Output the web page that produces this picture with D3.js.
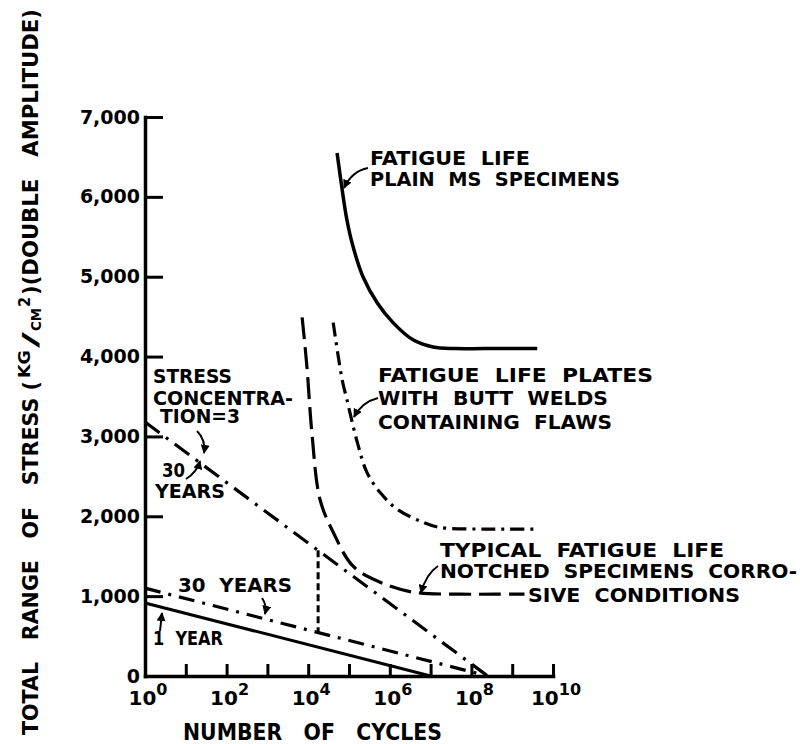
<!DOCTYPE html>
<html>
<head>
<meta charset="utf-8">
<script src="https://cdn.jsdelivr.net/npm/d3@7"></script>
<style>
  body { margin: 0; background: #fff; }
  svg { display: block; font-family: 'DejaVu Sans', sans-serif; font-weight: bold; }
  text { white-space: pre; fill: #000; }
</style>
</head>
<body>
<svg id="chart" width="800" height="744"></svg>
<script>
// axis values
var stressTicks = [0, 1000, 2000, 3000, 4000, 5000, 6000, 7000]
var cycleTicks = [1e1, 1e2, 1e3, 1e4, 1e5, 1e6, 1e7, 1e8, 1e9, 1e10]
var cycleLabelExps = [0, 2, 4, 6, 8, 10]

// fatigue life, plain MS specimens (solid)
var plainCycles = [5.1e4, 6.8e4, 8.9e4, 1.26e5, 2.2e5, 4.9e5, 1.2e6, 3.7e6, 1.15e7, 4e7, 2e8, 4.1e9]
var plainStress = [6550, 6090, 5710, 5375, 5000, 4675, 4425, 4210, 4120, 4100, 4100, 4100]

// fatigue life, plates with butt welds containing flaws (dash-dot)
var weldCycles = [4.1e4, 6.8e4, 8.9e4, 1.6e5, 2.75e5, 5.75e5, 1.5e6, 6.5e6, 1.7e7, 1.6e8, 8e8, 4.1e9]
var weldStress = [4425, 3710, 3460, 2925, 2550, 2300, 2090, 1925, 1860, 1840, 1840, 1840]

// typical fatigue life, notched specimens, corrosive conditions (dashed)
var notchCycles = [7.1e3, 9.3e3, 1.23e4, 1.95e4, 4.1e4, 1.26e5, 5.75e5, 3.7e6, 5.2e7, 4e8, 2.0e9]
var notchStress = [4490, 3875, 3050, 2210, 1800, 1375, 1175, 1050, 1025, 1025, 1025]

// straight service lines
var concCycles = [1, 2.5e8]
var concStress = [3180, 0] // stress concentration = 3, 30 years
var thirtyCycles = [1, 2.5e8]
var thirtyStress = [1100, 0]
var oneYearCycles = [1, 1e7]
var oneYearStress = [915, 0]
var dropCycles = 1.75e4

var svg = d3.select('#chart')
var x = d3.scaleLog().domain([1, 1e10]).range([145, 553])
var y = d3.scaleLinear().domain([0, 7000]).range([676, 117])

function pairs (cs, ss) { return cs.map(function (c, i) { return [c, ss[i]] }) }
function valueAt (cs, ss, c) {
  var t = (Math.log10(c) - Math.log10(cs[0])) / (Math.log10(cs[1]) - Math.log10(cs[0]))
  return ss[0] + t * (ss[1] - ss[0])
}

var curve = d3.line()
  .x(function (d) { return x(d[0]) })
  .y(function (d) { return y(d[1]) })
  .curve(d3.curveCatmullRom.alpha(0.5))
var straight = d3.line()
  .x(function (d) { return x(d[0]) })
  .y(function (d) { return y(d[1]) })

// y axis
var yAxis = svg.append('g')
  .attr('transform', 'translate(' + x(1) + ',0)')
  .call(d3.axisLeft(y).tickValues(stressTicks).tickSizeInner(-18).tickSizeOuter(0)
    .tickPadding(5).tickFormat(d3.format(',')))
yAxis.attr('font-family', 'DejaVu Sans').attr('font-size', 19).attr('font-weight', 'bold')
yAxis.select('.domain').attr('stroke-width', 3.5).attr('stroke-linecap', 'square')
yAxis.selectAll('.tick line').attr('stroke-width', 3)

// x axis
var xAxis = svg.append('g')
  .attr('transform', 'translate(0,' + y(0) + ')')
  .call(d3.axisBottom(x).tickValues(cycleTicks).tickSizeInner(-12).tickSizeOuter(0).tickFormat(''))
xAxis.select('.domain').attr('stroke-width', 3.5).attr('stroke-linecap', 'square')
xAxis.selectAll('.tick line').attr('stroke-width', 3)

var xl = svg.append('g').attr('font-size', 20)
cycleLabelExps.forEach(function (e) {
  var t = xl.append('text')
    .attr('x', x(Math.pow(10, e)) + 3)
    .attr('y', 705)
    .attr('text-anchor', 'middle')
  t.append('tspan').text('10')
  t.append('tspan').attr('font-size', 16).attr('dy', -10).text(e)
})

// curves
svg.append('path').datum(pairs(plainCycles, plainStress))
  .attr('d', curve).attr('fill', 'none').attr('stroke', '#000').attr('stroke-width', 3.5)
svg.append('path').datum(pairs(weldCycles, weldStress))
  .attr('d', curve).attr('fill', 'none').attr('stroke', '#000').attr('stroke-width', 3.2)
  .attr('stroke-dasharray', '14,6,3,6')
svg.append('path').datum(pairs(notchCycles, notchStress))
  .attr('d', curve).attr('fill', 'none').attr('stroke', '#000').attr('stroke-width', 3.2)
  .attr('stroke-dasharray', '22,8')
svg.append('path').datum(pairs(concCycles, concStress))
  .attr('d', straight).attr('fill', 'none').attr('stroke', '#000').attr('stroke-width', 3.2)
  .attr('stroke-dasharray', '18,8,3,8')
svg.append('path').datum(pairs(thirtyCycles, thirtyStress))
  .attr('d', straight).attr('fill', 'none').attr('stroke', '#000').attr('stroke-width', 3.2)
  .attr('stroke-dasharray', '16,8,3,8')
svg.append('path').datum(pairs(oneYearCycles, oneYearStress))
  .attr('d', straight).attr('fill', 'none').attr('stroke', '#000').attr('stroke-width', 3)
svg.append('path')
  .datum([[dropCycles, valueAt(concCycles, concStress, dropCycles)],
    [dropCycles, valueAt(thirtyCycles, thirtyStress, dropCycles)]])
  .attr('d', straight).attr('fill', 'none').attr('stroke', '#000').attr('stroke-width', 3)
  .attr('stroke-dasharray', '7,4')

// arrow heads
svg.append('defs').append('marker')
  .attr('id', 'head').attr('viewBox', '0 0 10 10').attr('refX', 9).attr('refY', 5)
  .attr('markerWidth', 9).attr('markerHeight', 9).attr('markerUnits', 'userSpaceOnUse')
  .attr('orient', 'auto')
  .append('path').attr('d', 'M0,0L10,5L0,10Z').attr('fill', '#000')

var arrows = [
  'M368,168 Q352,171 344,188',
  'M378,398 Q362,402 354,417',
  'M197,431 Q206,440 204,453',
  'M186,479 Q197,472 200,461',
  'M262,598 Q267,605 265,614',
  'M160,631 L162,613',
  'M438,566 Q426,574 421,593'
]
svg.append('g').selectAll('path').data(arrows).enter().append('path')
  .attr('d', function (d) { return d })
  .attr('fill', 'none').attr('stroke', '#000').attr('stroke-width', 2)
  .attr('marker-end', 'url(#head)')

// annotation text
var notes = [
  ['FATIGUE  LIFE', 370, 165, 160],
  ['PLAIN  MS  SPECIMENS', 370, 186, 250],
  ['FATIGUE  LIFE  PLATES', 378, 382, 275],
  ['WITH  BUTT  WELDS', 378, 405, 230],
  ['CONTAINING  FLAWS', 378, 429, 234],
  ['STRESS', 153, 383, 79],
  ['CONCENTRA-', 153, 405, 140],
  ['TION=3', 160, 423, 80],
  ['30', 162, 477, 23],
  ['YEARS', 155, 498, 70],
  ['30  YEARS', 178, 592, 114],
  ['1  YEAR', 153, 645, 70],
  ['TYPICAL  FATIGUE  LIFE', 440, 557, 284],
  ['NOTCHED  SPECIMENS  CORRO-', 440, 578, 357],
  ['SIVE  CONDITIONS', 528, 602, 212]
]
svg.append('g').attr('font-size', 20).selectAll('text').data(notes).enter().append('text')
  .attr('x', function (d) { return d[1] })
  .attr('y', function (d) { return d[2] })
  .attr('textLength', function (d) { return d[3] })
  .attr('lengthAdjust', 'spacingAndGlyphs')
  .text(function (d) { return d[0] })

// axis titles
svg.append('text').attr('x', 183).attr('y', 740).attr('font-size', 23)
  .attr('textLength', 259).attr('lengthAdjust', 'spacingAndGlyphs')
  .text('NUMBER   OF   CYCLES')

var yt = svg.append('g').attr('transform', 'translate(38,0) rotate(-90)')
var ytParts = [
  ['TOTAL   RANGE   OF   STRESS (', -735, 0, 22, 354],
  ['KG', -378, -8, 16, 28],
  ['/', -348, 0, 22, 16],
  ['CM', -331, 3, 14, 23],
  ['2', -307, -8, 16, 10],
  [')(DOUBLE   AMPLITUDE)', -295, 0, 22, 286]
]
yt.selectAll('text').data(ytParts).enter().append('text')
  .attr('x', function (d) { return d[1] })
  .attr('y', function (d) { return d[2] })
  .attr('font-size', function (d) { return d[3] })
  .attr('textLength', function (d) { return d[4] })
  .attr('lengthAdjust', 'spacingAndGlyphs')
  .text(function (d) { return d[0] })
</script>
</body>
</html>
